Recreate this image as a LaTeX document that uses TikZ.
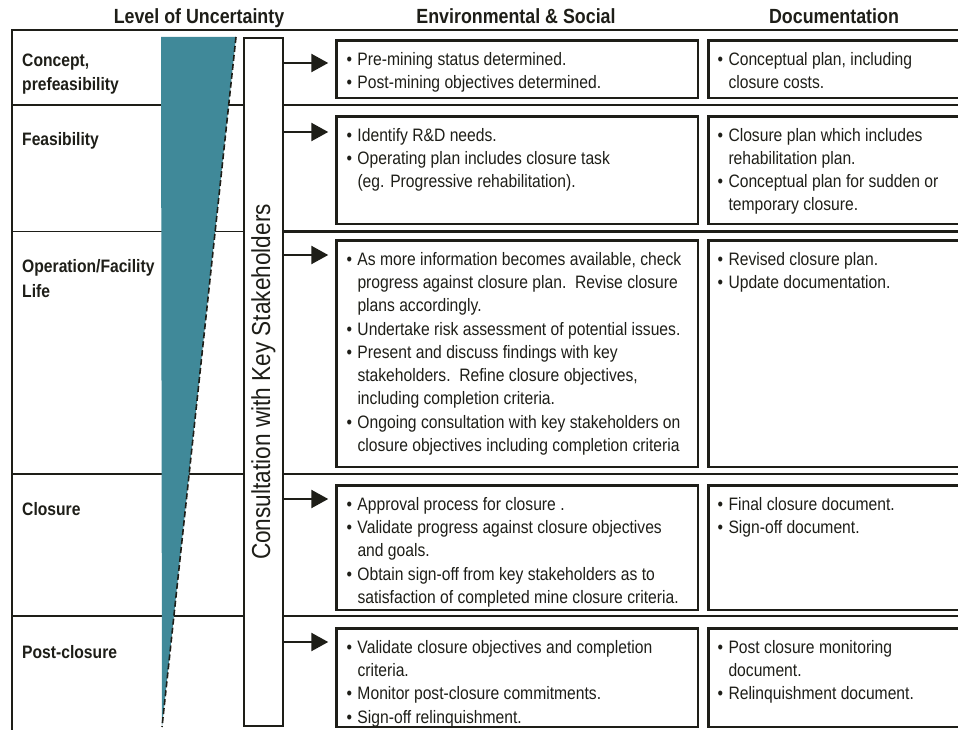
\documentclass[tikz,border=0pt]{standalone}
\usepackage{fontspec}
\setmainfont{Liberation Sans}[FakeStretch=0.87]
\usetikzlibrary{arrows.meta,calc}
\definecolor{ink}{RGB}{30,30,24}
\definecolor{tealfill}{RGB}{64,137,153}
\newlength\bw
\newcommand{\itm}[1]{\par\hangindent=\bw\hangafter=1\noindent\makebox[\bw][l]{•}#1\par}
\newcommand{\cellc}[4]{\parbox[c][#2][t]{#1}{\fontsize{18}{23.3}\selectfont\raggedright\setlength\leftskip{#3}\setlength\bw{11pt}\vskip1.3pt\prevdepth=0pt #4}}
\tikzset{
  cellbox/.style={draw=ink, line width=2.5pt, fill=white, inner sep=0pt, anchor=north west, text=ink},
  hdr/.style={font=\bfseries\fontsize{20.5}{22}\selectfont, anchor=base, inner sep=0pt, text=ink},
  lbl/.style={font=\bfseries\fontsize{18}{24.5}\selectfont, anchor=north west, align=left, inner sep=0pt, text=ink},
  sepline/.style={draw=ink, line width=2.5pt},
  thinline/.style={draw=ink, line width=1.5pt},
  arr/.style={draw=ink, line width=2.5pt, -{Triangle[length=17pt,width=18pt]}, shorten >=7pt},
}
\begin{document}
\begin{tikzpicture}[x=1pt,y=-1pt]
\useasboundingbox (0,0) rectangle (958,730);
\clip (0,0) rectangle (958,730);
\fill[white] (0,0) rectangle (958,730);
% headers
\node[hdr] (h1) at (199,24) {Level of Uncertainty};
\node[hdr] (h2) at (516,24) {Environmental \& Social};
\node[hdr] (h3) at (834,24) {Documentation};
% frame and row separators
\draw[thinline] (12,731) -- (12,30);
\draw[ink, line width=2pt] (11.25,30) -- (962,30);
\draw[sepline] (12,105) -- (962,105);
\draw[thinline] (12,231.5) -- (284,231.5);
\draw[sepline] (284,231.5) -- (962,231.5);
\draw[sepline] (12,474) -- (962,474);
\draw[sepline] (12,616) -- (962,616);
% uncertainty wedge
\fill[tealfill] (161,37) -- (236,37) -- (162,727) -- cycle;
\draw[ink, line width=1.6pt, dash pattern=on 6pt off 3pt] (236,37) -- (162,727);
% consultation column
\node[draw=ink, line width=2pt, fill=white, minimum width=39pt, minimum height=688pt, inner sep=0pt] (cons) at (263.5,382) {};
\node[rotate=90, font=\fontsize{26}{28}\selectfont, text=ink, inner sep=0pt] (constext) at (cons.center) {Consultation with Key Stakeholders};
% row labels
\node[lbl] (l1) at (22,53.5) {Concept,\\prefeasibility};
\node[lbl] (l2) at (22,132.5) {Feasibility};
\node[lbl] (l3) at (22,259.5) {Operation/Facility\\Life};
\node[lbl] (l4) at (22,502.5) {Closure};
\node[lbl] (l5) at (22,645.5) {Post-closure};
% Environmental & Social boxes
\node[cellbox] (e1) at (335.25,39.25) {\cellc{361.5pt}{57.5pt}{10pt}{%
  \itm{Pre-mining status determined.}
  \itm{Post-mining objectives determined.}}};
\node[cellbox] (e2) at (335.25,115.25) {\cellc{361.5pt}{107.5pt}{10pt}{%
  \itm{Identify R\&D needs.}
  \itm{Operating plan includes closure task\newline (eg. Progressive rehabilitation).}}};
\node[cellbox] (e3) at (335.25,239.25) {\cellc{361.5pt}{226.5pt}{10pt}{%
  \itm{As more information becomes available, check\newline progress against closure plan.\ \ Revise closure\newline plans accordingly.}
  \itm{Undertake risk assessment of potential issues.}
  \itm{Present and discuss findings with key\newline stakeholders.\ \ Refine closure objectives,\newline including completion criteria.}
  \itm{Ongoing consultation with key stakeholders on\newline closure objectives including completion criteria}}};
\node[cellbox] (e4) at (335.25,484.25) {\cellc{361.5pt}{124.5pt}{10pt}{%
  \itm{Approval process for closure .}
  \itm{Validate progress against closure objectives\newline and goals.}
  \itm{Obtain sign-off from key stakeholders as to\newline satisfaction of completed mine closure criteria.}}};
\node[cellbox] (e5) at (335.25,627.25) {\cellc{361.5pt}{98.5pt}{10pt}{%
  \itm{Validate closure objectives and completion\newline criteria.}
  \itm{Monitor post-closure commitments.}
  \itm{Sign-off relinquishment.}}};
% Documentation boxes
\node[cellbox] (d1) at (707.25,39.25) {\cellc{258pt}{57.5pt}{9pt}{%
  \itm{Conceptual plan, including\newline closure costs.}}};
\node[cellbox] (d2) at (707.25,115.25) {\cellc{258pt}{107.5pt}{9pt}{%
  \itm{Closure plan which includes\newline rehabilitation plan.}
  \itm{Conceptual plan for sudden or\newline temporary closure.}}};
\node[cellbox] (d3) at (707.25,239.25) {\cellc{258pt}{226.5pt}{9pt}{%
  \itm{Revised closure plan.}
  \itm{Update documentation.}}};
\node[cellbox] (d4) at (707.25,484.25) {\cellc{258pt}{124.5pt}{9pt}{%
  \itm{Final closure document.}
  \itm{Sign-off document.}}};
\node[cellbox] (d5) at (707.25,627.25) {\cellc{258pt}{98.5pt}{9pt}{%
  \itm{Post closure monitoring\newline document.}
  \itm{Relinquishment document.}}};
% arrows
\coordinate (a1) at (0,63);
\coordinate (a2) at (0,132);
\coordinate (a3) at (0,255);
\coordinate (a4) at (0,499);
\coordinate (a5) at (0,642);
\draw[arr] (cons.east |- a1) -- (e1.west |- a1);
\draw[arr] (cons.east |- a2) -- (e2.west |- a2);
\draw[arr] (cons.east |- a3) -- (e3.west |- a3);
\draw[arr] (cons.east |- a4) -- (e4.west |- a4);
\draw[arr] (cons.east |- a5) -- (e5.west |- a5);
\end{tikzpicture}
\end{document}
